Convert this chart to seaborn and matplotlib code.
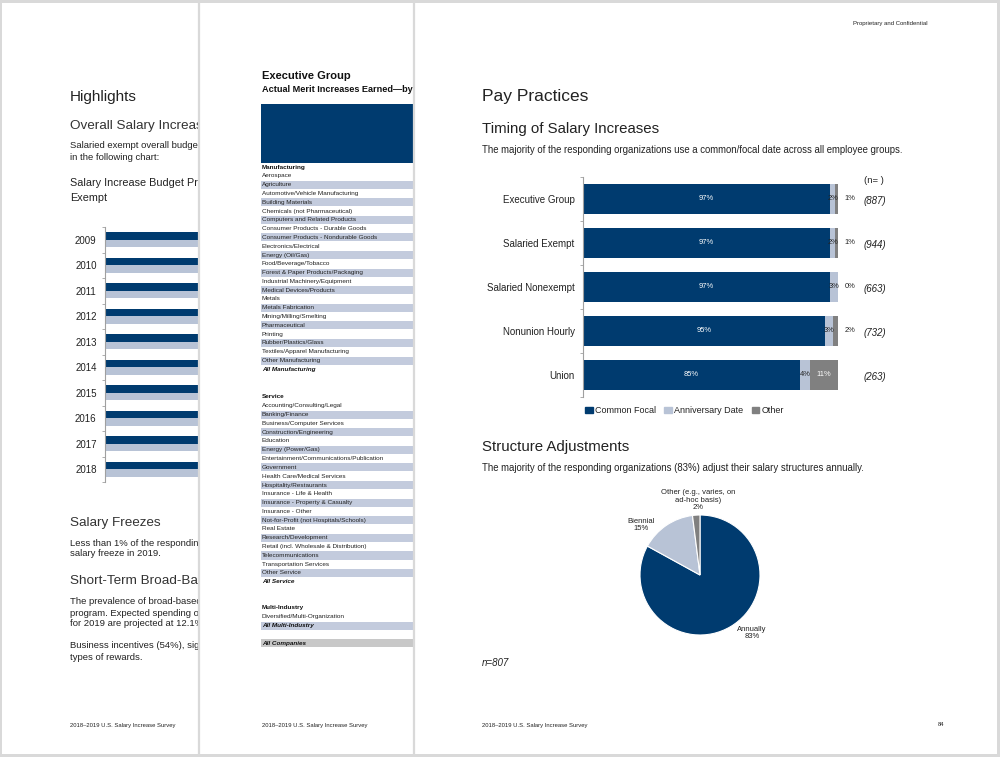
import numpy as np
import pandas as pd
import matplotlib
matplotlib.use('Agg')
import matplotlib.pyplot as plt
from matplotlib.patches import Patch, Rectangle
import seaborn as sns

# data
groups = ['Executive Group', 'Salaried Exempt', 'Salaried Nonexempt', 'Nonunion Hourly', 'Union']
common_focal = [97, 97, 97, 95, 85]
anniversary = [2, 2, 3, 3, 4]
other = [1, 1, 0, 2, 11]
n_counts = [887, 944, 663, 732, 263]
timing_labels = ['Common Focal', 'Anniversary Date', 'Other']

pie_labels = ['Annually', 'Biennial', 'Other (e.g., varies, on\nad-hoc basis)']
pie_values = [83, 15, 2]

years = ['2009', '2010', '2011', '2012', '2013', '2014', '2015', '2016', '2017', '2018']
budget_projected = [3.9, 2.8, 2.9, 3.0, 3.0, 3.0, 3.0, 3.0, 3.0, 3.0]
budget_actual = [1.9, 2.6, 2.8, 2.8, 2.9, 2.9, 2.9, 2.9, 3.0, 3.1]

manufacturing = ['Manufacturing', 'Aerospace', 'Agriculture', 'Automotive/Vehicle Manufacturing',
                 'Building Materials', 'Chemicals (not Pharmaceutical)', 'Computers and Related Products',
                 'Consumer Products - Durable Goods', 'Consumer Products - Nondurable Goods',
                 'Electronics/Electrical', 'Energy (Oil/Gas)', 'Food/Beverage/Tobacco',
                 'Forest & Paper Products/Packaging', 'Industrial Machinery/Equipment',
                 'Medical Devices/Products', 'Metals', 'Metals Fabrication', 'Mining/Milling/Smelting',
                 'Pharmaceutical', 'Printing', 'Rubber/Plastics/Glass', 'Textiles/Apparel Manufacturing',
                 'Other Manufacturing', 'All Manufacturing']
service = ['Service', 'Accounting/Consulting/Legal', 'Banking/Finance', 'Business/Computer Services',
           'Construction/Engineering', 'Education', 'Energy (Power/Gas)',
           'Entertainment/Communications/Publication', 'Government', 'Health Care/Medical Services',
           'Hospitality/Restaurants', 'Insurance - Life & Health', 'Insurance - Property & Casualty',
           'Insurance - Other', 'Not-for-Profit (not Hospitals/Schools)', 'Real Estate',
           'Research/Development', 'Retail (incl. Wholesale & Distribution)', 'Telecommunications',
           'Transportation Services', 'Other Service', 'All Service']
multi = ['Multi-Industry', 'Diversified/Multi-Organization', 'All Multi-Industry']

DARK = '#003b6f'
LIGHT = '#b8c3d6'
GRAY = '#808080'
TXT = '#222222'
BORDER = '#d9d9d9'

sns.set_style('white')
plt.rcParams['font.family'] = ['Liberation Sans', 'DejaVu Sans']

W, H = 1000, 757
fig = plt.figure(figsize=(10, 7.57), dpi=100, facecolor=BORDER)


def box(x0, y0, x1, y1):
    return [x0 / W, 1 - y1 / H, (x1 - x0) / W, (y1 - y0) / H]


def page(x0, x1, edge=False):
    ax = fig.add_axes(box(x0, 3, x1, 754))
    ax.set_xlim(x0, x1)
    ax.set_ylim(754, 3)
    ax.set_facecolor('white')
    ax.set_xticks([])
    ax.set_yticks([])
    for s in ax.spines.values():
        s.set_visible(False)
    if edge:
        ax.spines['left'].set_visible(True)
        ax.spines['left'].set_color(BORDER)
        ax.spines['left'].set_linewidth(1.6)
    return ax


def put(ax, x, y, s, size, **kw):
    kw.setdefault('color', TXT)
    ax.text(x, y, s, fontsize=size, va='center', ha=kw.pop('ha', 'left'), **kw)


# ---------- left page (Highlights) ----------
pl = page(2, 199)
put(pl, 70, 97, 'Highlights', 11)
put(pl, 70, 126, 'Overall Salary Increase Budgets', 9.7, color='#333333')
put(pl, 70, 146, 'Salaried exempt overall budget increases are shown', 6.8)
put(pl, 70, 157, 'in the following chart:', 6.8)
put(pl, 70, 183, 'Salary Increase Budget Projected vs. Actual, Salaried', 7.8)
put(pl, 70, 198, 'Exempt', 7.8)
put(pl, 70, 523, 'Salary Freezes', 9.7, color='#333333')
put(pl, 70, 543, 'Less than 1% of the responding organizations plan a', 6.8)
put(pl, 70, 554, 'salary freeze in 2019.', 6.8)
put(pl, 70, 581, 'Short-Term Broad-Based Incentives', 9.7, color='#333333')
put(pl, 70, 602, 'The prevalence of broad-based short-term incentive', 6.8)
put(pl, 70, 613, 'program. Expected spending on short-term incentives', 6.8)
put(pl, 70, 624, 'for 2019 are projected at 12.1% of salary.', 6.8)
put(pl, 70, 646, 'Business incentives (54%), significant among all', 6.8)
put(pl, 70, 657, 'types of rewards.', 6.8)
put(pl, 70, 725, '2018\u20132019 U.S. Salary Increase Survey', 4.2)

ax_l = fig.add_axes(box(105, 227, 470, 482))
budget = pd.DataFrame({
    'year': years * 2,
    'series': ['Projected'] * len(years) + ['Actual'] * len(years),
    'value': budget_projected + budget_actual,
})
sns.barplot(data=budget, x='value', y='year', hue='series', palette=[DARK, LIGHT],
            orient='h', width=0.6, ax=ax_l, legend=False, linewidth=0, saturation=1)
ax_l.set_xlim(0, 4.5)
ax_l.set_ylim(len(years) - 0.5, -0.5)
ax_l.set_xlabel('')
ax_l.set_ylabel('')
ax_l.set_xticks([])
for s in ['top', 'right', 'bottom']:
    ax_l.spines[s].set_visible(False)
ax_l.spines['left'].set_color('#a0a0a0')
ax_l.spines['left'].set_linewidth(0.8)
ax_l.set_yticks(np.arange(-0.5, len(years), 1), minor=True)
ax_l.tick_params(axis='y', which='major', length=0, pad=6, labelsize=7, labelcolor=TXT)
ax_l.tick_params(axis='y', which='minor', length=2.5, width=0.6, color='#a0a0a0', left=True)

# ---------- middle page (industry table) ----------
pm = page(199, 997, edge=True)
put(pm, 262, 76, 'Executive Group', 8, fontweight='bold', color='#111111')
put(pm, 262, 89, 'Actual Merit Increases Earned\u2014by Industry', 6.6, fontweight='bold', color='#111111')
pm.add_patch(Rectangle((261, 104), 700, 59, color=DARK, lw=0))

row_h = 8.8
SHADE = '#c3cbdd'
ROW_FS = 4.6


def table_block(rows, y0):
    for i, name in enumerate(rows):
        y = y0 + i * row_h
        if i > 0 and i % 2 == 0:
            pm.add_patch(Rectangle((261, y - 4.1), 700, 8.2, color=SHADE, lw=0))
        if i == 0:
            put(pm, 262, y, name, ROW_FS, fontweight='bold', color='#111111')
        elif name.startswith('All '):
            put(pm, 262, y, name, ROW_FS, fontweight='bold', fontstyle='italic', color='#111111')
        else:
            put(pm, 262, y, name, ROW_FS)


table_block(manufacturing, 167)
table_block(service, 397)
table_block(multi, 608)
pm.add_patch(Rectangle((261, 639), 700, 8.2, color='#c8c8c8', lw=0))
put(pm, 262, 643, 'All Companies', ROW_FS, fontweight='bold', fontstyle='italic', color='#111111')
put(pm, 262, 725, '2018\u20132019 U.S. Salary Increase Survey', 4.2)

# ---------- right page (Pay Practices) ----------
pr = page(414, 997, edge=True)
put(pr, 928, 23, 'Proprietary and Confidential', 4.3, ha='right')
put(pr, 482, 97, 'Pay Practices', 12.5)
put(pr, 482, 129, 'Timing of Salary Increases', 10.8)
put(pr, 482, 150, 'The majority of the responding organizations use a common/focal date across all employee groups.', 6.9)
put(pr, 482, 447, 'Structure Adjustments', 10.8)
put(pr, 482, 468, 'The majority of the responding organizations (83%) adjust their salary structures annually.', 6.9)
put(pr, 482, 663, 'n=807', 7, fontstyle='italic')
put(pr, 482, 725, '2018\u20132019 U.S. Salary Increase Survey', 4.2)
put(pr, 938, 725, '84', 4.2)

# stacked bars: draw cumulative totals back to front
ax_b = fig.add_axes(box(583, 177, 838, 397))
timing = pd.DataFrame({'group': groups, 'focal': common_focal,
                       'anniv': anniversary, 'other': other})
timing['cum2'] = timing['focal'] + timing['anniv']
timing['cum3'] = timing['cum2'] + timing['other']
for col, c in [('cum3', GRAY), ('cum2', LIGHT), ('focal', DARK)]:
    sns.barplot(data=timing, x=col, y='group', color=c, orient='h', width=0.68,
                ax=ax_b, linewidth=0, saturation=1)
ax_b.set_xlim(0, 100)
ax_b.set_ylim(len(groups) - 0.5, -0.5)
ax_b.set_xlabel('')
ax_b.set_ylabel('')
ax_b.set_xticks([])
for s in ['top', 'right', 'bottom']:
    ax_b.spines[s].set_visible(False)
ax_b.spines['left'].set_color('#a0a0a0')
ax_b.spines['left'].set_linewidth(0.8)
ax_b.set_yticks(np.arange(-0.5, len(groups), 1), minor=True)
ax_b.tick_params(axis='y', which='major', length=0, pad=6, labelsize=7, labelcolor=TXT)
ax_b.tick_params(axis='y', which='minor', length=2.5, width=0.6, color='#a0a0a0', left=True)

for i, row in timing.iterrows():
    segs = [(row['focal'], 0, 'white'), (row['anniv'], row['focal'], TXT),
            (row['other'], row['cum2'], 'white')]
    for k, (v, start, col) in enumerate(segs):
        if k == 2 and v < 5:
            ax_b.text(row['cum3'] + 2.5, i, f'{v}%', fontsize=5.4, va='center', ha='left', color=TXT)
        else:
            ax_b.text(start + v / 2, i, f'{v}%', fontsize=5.4, va='center', ha='center', color=col)
x_n = (864 - 583) / (838 - 583) * 100
ax_b.text(x_n, -0.41, '(n= )', fontsize=6.8, va='center', ha='left', color=TXT, clip_on=False)
for i, n in enumerate(n_counts):
    ax_b.text(x_n, i + 0.04, f'({n})', fontsize=7, va='center', ha='left', color=TXT,
              fontstyle='italic', clip_on=False)

handles = [Patch(color=c) for c in [DARK, LIGHT, GRAY]]
ax_b.legend(handles, timing_labels, loc='upper left', bbox_to_anchor=(-0.005, -0.025),
            ncol=3, frameon=False, fontsize=6.5, handlelength=0.8, handleheight=0.8,
            handletextpad=0.3, columnspacing=0.9, borderaxespad=0, labelcolor=TXT)

# pie
ax_p = fig.add_axes(box(640, 515, 760, 635))
ax_p.pie(pie_values, colors=[DARK, LIGHT, GRAY], startangle=90, counterclock=False,
         wedgeprops=dict(edgecolor='white', linewidth=0.8))
ax_p.set_aspect('equal')
ax_p.set_xlim(-1, 1)
ax_p.set_ylim(-1, 1)

put(pr, 752, 633, f'{pie_labels[0]}\n{pie_values[0]}%', 5.5, ha='center', linespacing=1.1)
put(pr, 641, 525, f'{pie_labels[1]}\n{pie_values[1]}%', 5.5, ha='center', linespacing=1.1)
put(pr, 698, 500, f'{pie_labels[2]}\n{pie_values[2]}%', 5.5, ha='center', linespacing=1.1)

fig.savefig('out.png', dpi=100, facecolor=fig.get_facecolor())
